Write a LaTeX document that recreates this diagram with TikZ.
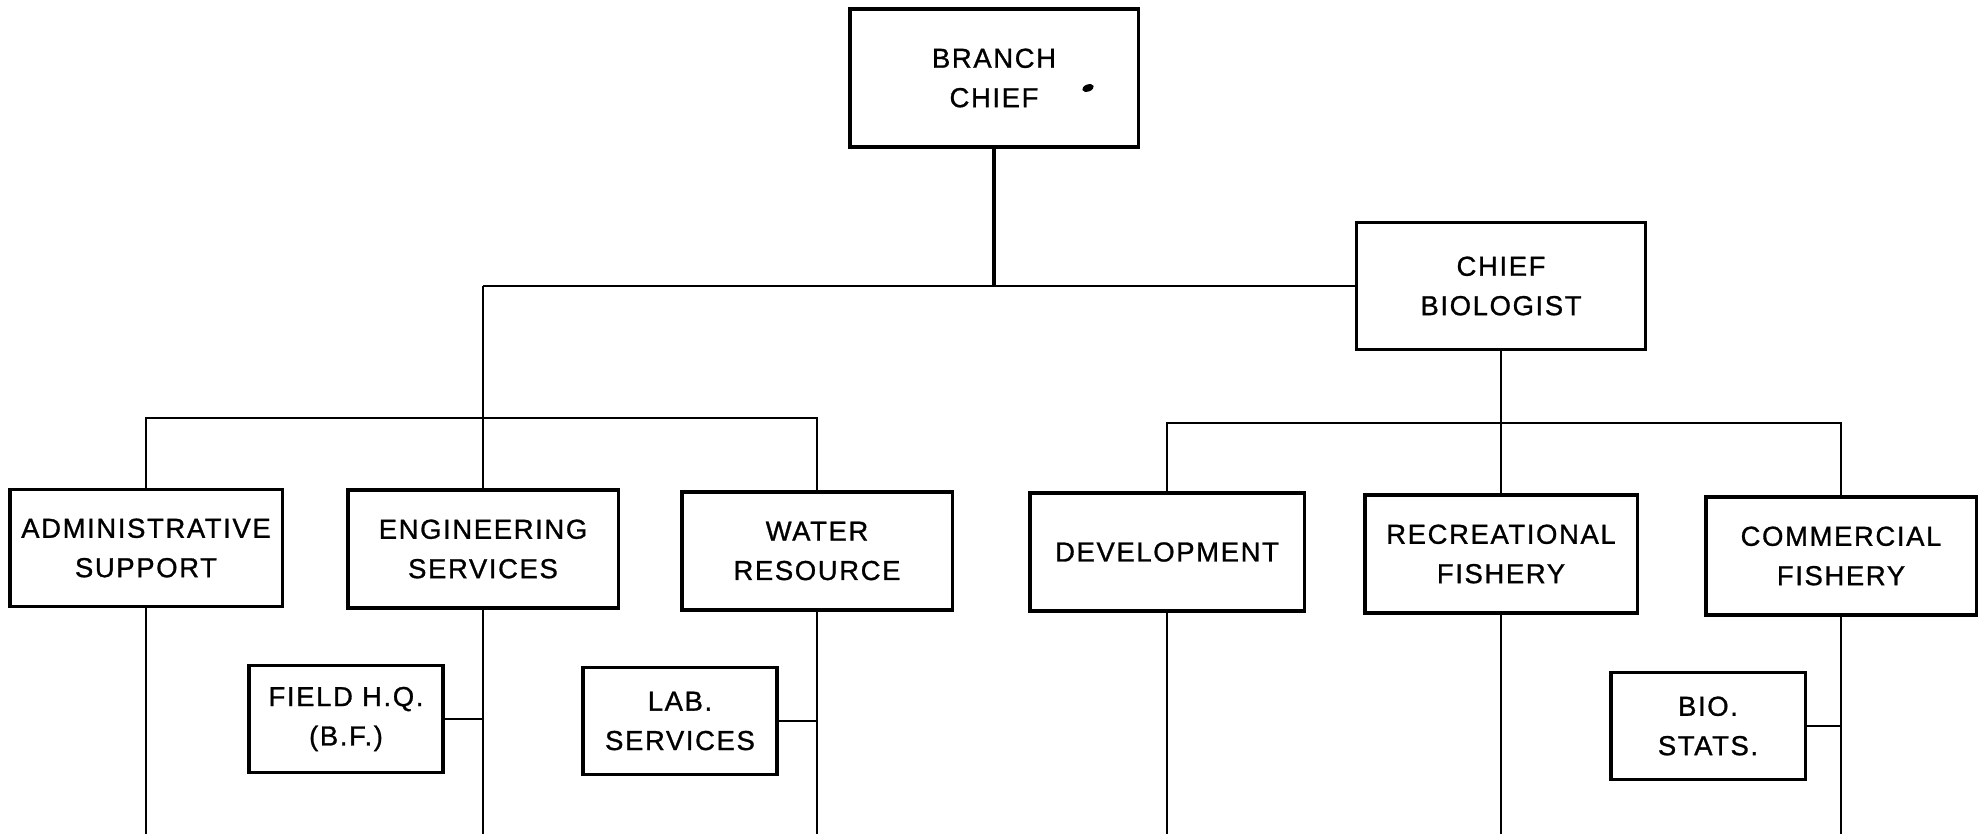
\documentclass[tikz,border=0pt]{standalone}
\usepackage{fontspec}
\setmainfont{Liberation Sans}[LetterSpace=6, FakeBold=1]
\usepackage{tikz}

\begin{document}
\begin{tikzpicture}[
    x=0.01cm,
    y=-0.01cm,
    font=\fontsize{7.8}{11.2}\selectfont,
    unit/.style={
        draw,
        line width=0.9pt,
        align=center,
        inner sep=0pt,
        minimum width=2.7cm,
        minimum height=1.18cm
    },
    sub/.style={
        unit,
        minimum width=1.94cm,
        minimum height=1.07cm
    },
    link/.style={line width=0.8pt},
    tail/.style={line width=0.6pt}
]

\useasboundingbox (0,0) rectangle (1982,840);

\node[unit, minimum width=2.88cm, minimum height=1.38cm] (bc) at (994,78) {BRANCH\\CHIEF};
\node[unit, minimum width=2.89cm, minimum height=1.27cm] (cb) at (1501,286) {CHIEF\\BIOLOGIST};

\node[unit, minimum width=2.72cm, minimum height=1.17cm] (admin) at (146,548) {ADMINISTRATIVE\\SUPPORT};
\node[unit] (eng) at (483,549) {ENGINEERING\\SERVICES};
\node[unit] (water) at (817,551) {WATER\\RESOURCE};

\node[unit, minimum width=2.74cm] (dev) at (1167,552) {DEVELOPMENT};
\node[unit, minimum width=2.72cm] (rec) at (1501,554) {RECREATIONAL\\FISHERY};
\node[unit] (comm) at (1841,556) {COMMERCIAL\\FISHERY};

\node[sub] (fhq) at (346,719) {FIELD H.Q.\\(B.F.)};
\node[sub] (lab) at (680,721) {LAB.\\SERVICES};
\node[sub] (bio) at (1708,726) {BIO.\\STATS.};

\coordinate (split) at (eng.north |- cb.west);
\coordinate (lbar) at (483,418);
\coordinate (rbar) at (1501,423);
\coordinate (floor) at (0,834);

\draw[link, line width=1pt] (bc.south) -- (bc.south |- cb.west);
\draw[link] (cb.west) -- (split);
\draw[link] (split) -- (eng.north);
\draw[link] (admin.north) |- (lbar) -| (water.north);

\draw[link] (cb.south) -- (rec.north);
\draw[link] (dev.north) |- (rbar) -| (comm.north);

% lines running on below the sheet
\foreach \n in {admin,eng,water,dev,rec,comm}
    \draw[tail] (\n.south) -- (\n.south |- floor);

\draw[tail] (fhq.east) -- (fhq.east -| eng.south);
\draw[tail] (lab.east) -- (lab.east -| water.south);
\draw[tail] (bio.east) -- (bio.east -| comm.south);

\fill[rotate around={20:(1088,88)}] (1088,88) ellipse [x radius=0.06cm, y radius=0.035cm];

\end{tikzpicture}
\end{document}
